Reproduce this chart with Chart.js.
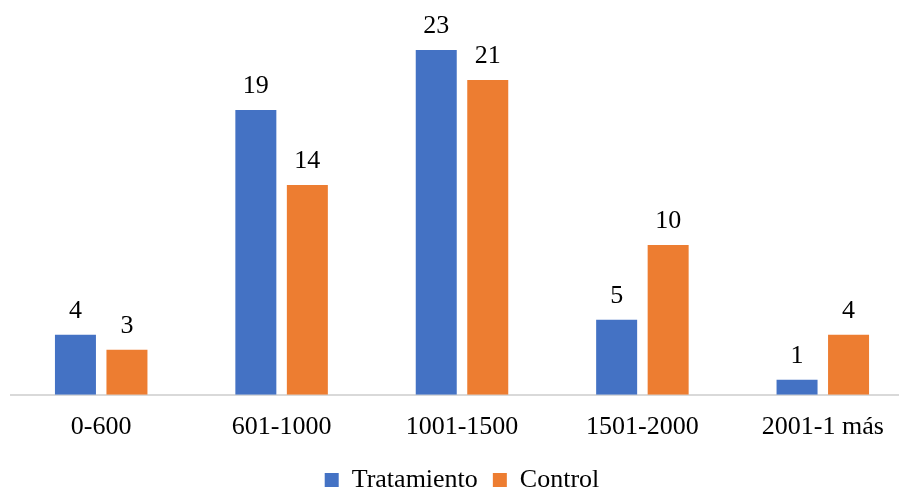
<!DOCTYPE html>
<html>
<head>
<meta charset="utf-8">
<script src="https://cdn.jsdelivr.net/npm/chart.js@4"></script>
<style>
  html, body { margin: 0; padding: 0; background: #fff; overflow: hidden; }
  #wrap { position: relative; width: 913px; height: 503px; }
</style>
</head>
<body>
<div id="wrap"><canvas id="chart"></canvas></div>
<script>
const categories = ["0-600", "601-1000", "1001-1500", "1501-2000", "2001-1 más"];
const tratamiento = [4, 19, 23, 5, 1];
const control = [3, 14, 21, 10, 4];
const seriesNames = ["Tratamiento", "Control"];

const FONT = "'Liberation Serif', 'Times New Roman', serif";

// etiquetas de valor encima de cada barra
const valueLabels = {
  id: "valueLabels",
  afterDatasetsDraw(chart) {
    const ctx = chart.ctx;
    ctx.save();
    ctx.font = "26px " + FONT;
    ctx.fillStyle = "#000";
    ctx.textAlign = "center";
    ctx.textBaseline = "alphabetic";
    chart.data.datasets.forEach((ds, i) => {
      chart.getDatasetMeta(i).data.forEach((bar, j) => {
        ctx.fillText(ds.data[j], bar.x, bar.y - 17);
      });
    });
    ctx.restore();
  },
};

const ctx = document.getElementById("chart").getContext("2d");
new Chart(ctx, {
  type: "bar",
  data: {
    labels: categories,
    datasets: [
      { label: seriesNames[0], data: tratamiento, backgroundColor: "#4472C4" },
      { label: seriesNames[1], data: control, backgroundColor: "#ED7D31" },
    ],
  },
  options: {
    responsive: true,
    maintainAspectRatio: false,
    animation: false,
    categoryPercentage: 0.571,
    barPercentage: 0.796,
    layout: { padding: { left: 11, right: 0, top: 20, bottom: 0 } },
    scales: {
      x: {
        grid: { display: false },
        border: { color: "#d9d9d9", width: 2 },
        ticks: { color: "#000", font: { family: FONT, size: 26 }, padding: 9 },
      },
      y: { display: false, min: 0, max: 25 },
    },
    plugins: {
      legend: {
        position: "bottom",
        labels: {
          color: "#000",
          font: { family: FONT, size: 26 },
          boxWidth: 14,
          boxHeight: 14,
          padding: 15,
        },
      },
      tooltip: { enabled: false },
    },
  },
  plugins: [valueLabels],
});
</script>
</body>
</html>
